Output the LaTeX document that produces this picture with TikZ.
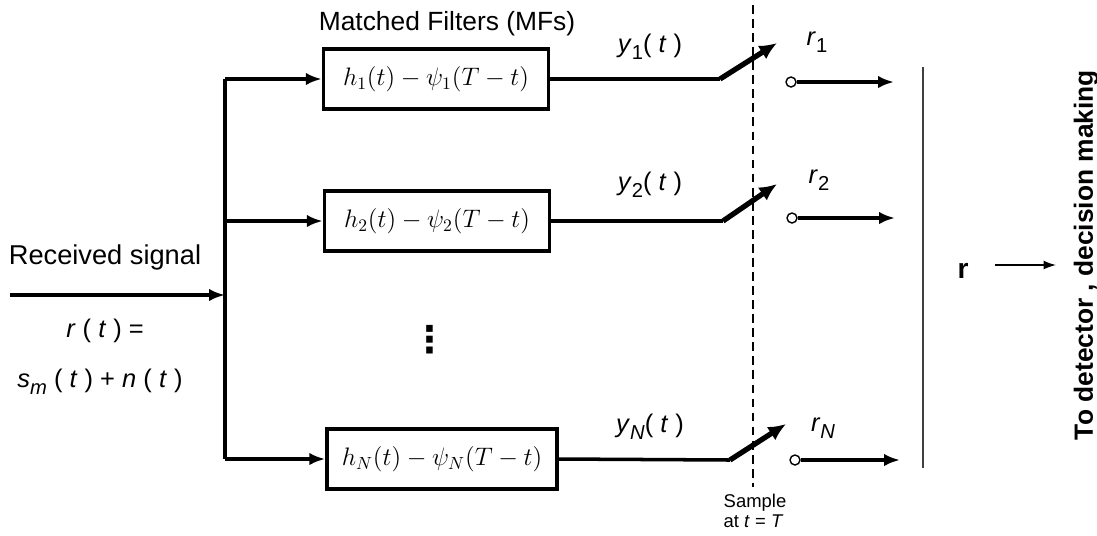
\documentclass[tikz,border=0pt]{standalone}
\usepackage{fontspec}
\usepackage{amsmath}
\setmainfont{Liberation Sans}
\newfontfamily\symfont{DejaVu Sans}
\usetikzlibrary{arrows.meta, positioning, calc}

% lowered index in text mode, as for y_1 and r_1
\newcommand{\lowidx}[1]{\raisebox{-0.55ex}{\fontsize{11.5}{12}\selectfont #1}}

\begin{document}
\begin{tikzpicture}[
  x=0.02cm, y=-0.02cm,
  filt/.style={rectangle, draw, line width=2pt, minimum width=4.5cm,
               minimum height=1.2cm, text centered, font=\fontsize{14}{16}\selectfont},
  sig/.style={-{Latex[length=9pt,width=7pt]}, line width=2pt},
  wire/.style={line width=2pt},
  swarm/.style={-{Latex[length=10pt,width=9pt]}, line width=3pt},
  tapc/.style={circle, draw, line width=0.8pt, fill=white, inner sep=0pt, minimum size=0.2cm},
  lbl/.style={font=\fontsize{14.5}{16}\selectfont},
]
\useasboundingbox (0,0) rectangle (1097,535);

% matched filter bank
\node[filt] (box1) at (436,79) {$h_1(t) - \psi_1(T - t)$};
\node[filt] (box2) at (437,221) {$h_2(t) - \psi_2(T - t)$};
\node[filt, minimum width=4.6cm] (boxN) at (442,459) {$h_N(t) - \psi_N(T - t)$};
\node[font=\fontsize{15}{17}\selectfont] (mfs) at (447,24) {Matched Filters (MFs)};
\node[font=\symfont\bfseries\fontsize{21}{21}\selectfont, inner sep=0pt] (dots) at (430,340) {⋮};

% input and bus
\node[font=\fontsize{15.5}{17}\selectfont] (rxlbl) at (105,257) {Received signal};
\node[lbl] (rt) at (105,331) {\textit{r} ( \textit{t} ) =};
\node[lbl] (sum) at (100,382) {\textit{s}\lowidx{\textit{m}} ( \textit{t} ) + \textit{n} ( \textit{t} )};
\coordinate (in) at (10,295);
\coordinate (bus) at (225,295);
\coordinate (b1) at (225,79);
\coordinate (b2) at (225,221);
\coordinate (bN) at (225,459);
\draw[sig] (in) -- (bus);
\draw[wire] (b1) -- (bN);
\draw[sig] (b1) -- (box1.west);
\draw[sig] (b2) -- (box2.west);
\draw[sig] (bN) -- (boxN.west);

% filter outputs and sampling switches
\coordinate (sw1) at (720,79);
\coordinate (tip1) at (777,43);
\coordinate (sw2) at (723,221);
\coordinate (tip2) at (777,184);
\coordinate (swN) at (730,460);
\coordinate (tipN) at (786,424);
\draw[wire] (box1.east) -- (sw1);
\draw[wire] (box2.east) -- (sw2);
\draw[wire] (boxN.east) -- (swN);
\draw[swarm] (sw1) -- (tip1);
\draw[swarm] (sw2) -- (tip2);
\draw[swarm] (swN) -- (tipN);
\node[lbl] (y1) at (650,47) {\textit{y}\lowidx{1}( \textit{t} )};
\node[lbl] (y2) at (650,185) {\textit{y}\lowidx{2}( \textit{t} )};
\node[lbl] (yN) at (650,427) {\textit{y}\lowidx{\textit{N}}( \textit{t} )};

% sampling instant
\coordinate (stop) at (753,5);
\coordinate (sbot) at (753,487);
\draw[line width=1.1pt, dash pattern=on 5pt off 3pt] (stop) -- (sbot);
\node[font=\fontsize{10.5}{11.5}\selectfont, align=left] (samp) at (755,511) {Sample\\at \textit{t} = \textit{T}};

% sampled outputs
\node[tapc] (c1) at (791,82) {};
\node[tapc] (c2) at (792,218) {};
\node[tapc] (cN) at (795,460) {};
\coordinate (o1) at (894,82);
\coordinate (o2) at (895,218);
\coordinate (oN) at (900,460);
\draw[sig] (c1) -- (o1);
\draw[sig] (c2) -- (o2);
\draw[sig] (cN) -- (oN);
\node[lbl] (r1) at (817,42) {\textit{r}\lowidx{1}};
\node[lbl] (r2) at (819,180) {\textit{r}\lowidx{2}};
\node[lbl] (rN) at (823,428) {\textit{r}\lowidx{\textit{N}}};

% vector to the detector
\coordinate (vtop) at (923,67);
\coordinate (vbot) at (923,468);
\draw[black!75, line width=0.9pt] (vtop) -- (vbot);
\node[font=\fontsize{16}{18}\selectfont\bfseries] (rvec) at (963,271) {r};
\coordinate (ra) at (995,265);
\coordinate (rb) at (1056,265);
\draw[-{Latex[length=7pt,width=5pt]}, line width=0.8pt] (ra) -- (rb);
\node[font=\fontsize{15}{17}\selectfont\bfseries, rotate=90] (dest) at (1086,255) {To detector , decision making};

\end{tikzpicture}
\end{document}
